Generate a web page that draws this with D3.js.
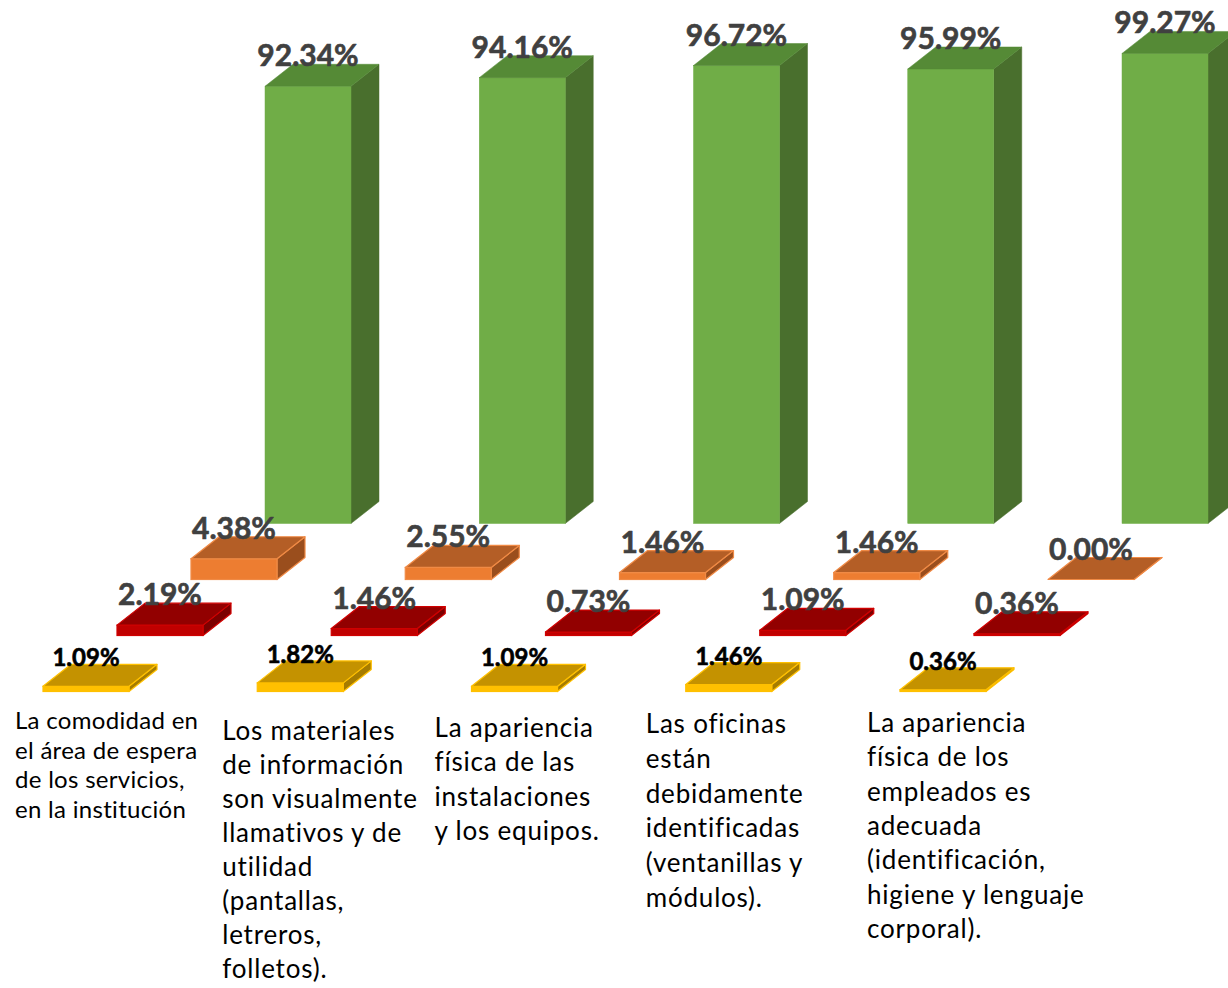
<!DOCTYPE html>
<html lang="es">
<head>
<meta charset="utf-8">
<script src="https://cdn.jsdelivr.net/npm/d3@7"></script>
<style>
  html, body { margin: 0; padding: 0; background: #ffffff; }
  svg { display: block; }
</style>
</head>
<body>
<svg id="chart" width="1228" height="988"></svg>
<script>
// Categorías (cada una con sus renglones ya cortados)
const categorias = [
  ["La comodidad en", "el área de espera", "de los servicios,", "en la institución"],
  ["Los materiales", "de información", "son visualmente", "llamativos y de", "utilidad", "(pantallas,", "letreros,", "folletos)."],
  ["La apariencia", "física de las", "instalaciones", "y los equipos."],
  ["Las oficinas", "están", "debidamente", "identificadas", "(ventanillas y", "módulos)."],
  ["La apariencia", "física de los", "empleados es", "adecuada", "(identificación,", "higiene y lenguaje", "corporal)."]
];

// Porcentajes por serie (de la fila del fondo a la del frente)
const serieVerde    = [92.34, 94.16, 96.72, 95.99, 99.27];
const serieNaranja  = [4.38, 2.55, 1.46, 1.46, 0.00];
const serieRoja     = [2.19, 1.46, 0.73, 1.09, 0.36];
const serieAmarilla = [1.09, 1.82, 1.09, 1.46, 0.36];

// Estilo de cada serie: fila de profundidad (0 = frente) y colores de las caras
const series = [
  { valores: serieVerde,    fila: 3, frente: "#70AD47", tapa: "#558A36", lado: "#496F2D", borde: null,      etiqueta: "#404040", fuente: 30 },
  { valores: serieNaranja,  fila: 2, frente: "#ED7D31", tapa: "#B45E26", lado: "#9A4E1D", borde: "#F08A45", etiqueta: "#404040", fuente: 30 },
  { valores: serieRoja,     fila: 1, frente: "#C00000", tapa: "#920000", lado: "#7C0000", borde: "#D00000", etiqueta: "#404040", fuente: 30 },
  { valores: serieAmarilla, fila: 0, frente: "#FFC000", tapa: "#C49200", lado: "#A67C00", borde: "#FFC000", etiqueta: "#000000", fuente: 24 }
];

const svg = d3.select("#chart");
const W = 1228, H = 988;
svg.append("rect").attr("width", W).attr("height", H).attr("fill", "#ffffff");

// Escalas
const idx = d3.range(categorias.length);
const x = d3.scaleBand().domain(idx).range([265, 1208]).paddingInner(1 - 86 / 214.25).paddingOuter(0).align(0);
const alto = d3.scaleLinear().domain([0, 100]).range([0, 473.5]);
const filaX = d3.scaleLinear().domain([0, 3]).range([-222, 0]);
const filaY = d3.scaleLinear().domain([0, 3]).range([691.5, 523.5]);
const prof = { dx: 28, dy: 22 };

const fontFam = "Lato, 'Open Sans', 'Noto Sans', sans-serif";
const gBarras = svg.append("g");
const gEtiq = svg.append("g");

series.forEach(s => {
  const g = gBarras.append("g");
  s.valores.forEach((v, i) => {
    const w = x.bandwidth();
    const x0 = x(i) + filaX(s.fila);
    const yb = filaY(s.fila);
    const h = alto(v);
    const yt = yb - h;
    const stroke = s.borde || null;
    const sw = s.borde ? 1.2 : 0;

    // cara lateral
    g.append("path")
      .attr("d", d3.line()([[x0 + w, yb], [x0 + w, yt], [x0 + w + prof.dx, yt - prof.dy], [x0 + w + prof.dx, yb - prof.dy]]) + "Z")
      .attr("fill", s.lado)
      .attr("stroke", stroke || s.lado).attr("stroke-width", sw || 0.5).attr("stroke-linejoin", "round");
    // cara frontal
    g.append("rect")
      .attr("x", x0).attr("y", yt).attr("width", w).attr("height", h)
      .attr("fill", s.frente)
      .attr("stroke", stroke || s.frente).attr("stroke-width", sw || 0.5);
    // tapa
    g.append("path")
      .attr("d", d3.line()([[x0, yt], [x0 + w, yt], [x0 + w + prof.dx, yt - prof.dy], [x0 + prof.dx, yt - prof.dy]]) + "Z")
      .attr("fill", s.tapa)
      .attr("stroke", stroke || s.tapa).attr("stroke-width", sw || 0.5).attr("stroke-linejoin", "round");

    // etiqueta del valor
    gEtiq.append("text")
      .attr("x", x0 + w / 2)
      .attr("y", yt - prof.dy + 2)
      .attr("text-anchor", "middle")
      .attr("font-family", fontFam)
      .attr("font-weight", 700)
      .attr("font-size", s.fuente)
      .attr("fill", s.etiqueta)
      .attr("stroke", s.etiqueta)
      .attr("stroke-width", 0.6)
      .attr("stroke-linejoin", "round")
      .text(d3.format(".2f")(v) + "%");
  });
});

// Etiquetas de categoría bajo la fila del frente
const ajusteEtiq = [
  { dx: -28, y0: 729, paso: 29.5, tam: 24, esp: 0.3 },
  { dx: -35, y0: 740, paso: 34.0, tam: 26, esp: 0.8 },
  { dx: -37, y0: 737, paso: 34.3, tam: 26, esp: 0.8 },
  { dx: -40, y0: 733, paso: 34.8, tam: 26, esp: 0.8 },
  { dx: -33, y0: 732, paso: 34.3, tam: 26, esp: 0.8 }
];
categorias.forEach((lineas, i) => {
  const a = ajusteEtiq[i];
  const t = svg.append("text")
    .attr("font-family", fontFam)
    .attr("font-size", a.tam)
    .attr("letter-spacing", a.esp)
    .attr("fill", "#000000");
  lineas.forEach((ln, k) => {
    t.append("tspan")
      .attr("x", x(i) + filaX(0) + a.dx)
      .attr("y", a.y0 + k * a.paso)
      .text(ln);
  });
});
</script>
</body>
</html>
